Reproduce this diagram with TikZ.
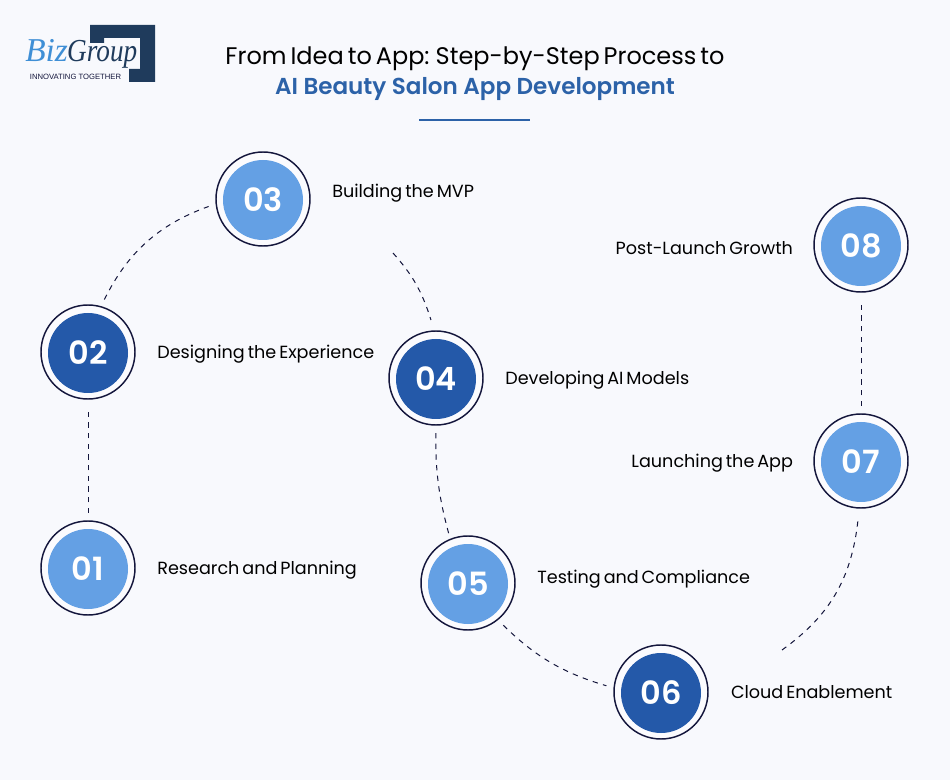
\documentclass[tikz,border=0pt]{standalone}
\usepackage{fontspec}
\setmainfont{Poppins}[WordSpace=0.62]
\newfontfamily\numfont{Poppins SemiBold}
\newfontfamily\logofont{Liberation Serif}
\newfontfamily\taglinefont{Liberation Sans}
\usetikzlibrary{positioning}
\definecolor{pagebg}{HTML}{F8F9FD}
\definecolor{ringcol}{HTML}{14163C}
\definecolor{lightblue}{HTML}{64A0E4}
\definecolor{darkblue}{HTML}{2459A9}
\definecolor{titleblue}{HTML}{2C62A8}
\definecolor{logonavy}{HTML}{1F3B5C}
\definecolor{logoblue}{HTML}{3F8FD6}
\tikzset{
  ringnode/.style={circle, draw=ringcol, line width=1.1pt, fill=white!40!pagebg, minimum size=70.5pt, inner sep=0pt},
  lightstep/.style={circle, fill=lightblue, minimum size=60pt, inner sep=0pt, text=white, font=\numfont\fontsize{24}{24}\selectfont},
  darkstep/.style={lightstep, fill=darkblue},
  steplabel/.style={font=\fontsize{13.2}{16}\selectfont, text=black, inner sep=0pt, yshift=-2pt},
  dashline/.style={draw=ringcol, line width=0.75pt, dash pattern=on 4pt off 4pt}
}
\begin{document}
\begin{tikzpicture}[x=0.75pt, y=-0.75pt]
  \fill[pagebg] (0,0) rectangle (950,780);
  \useasboundingbox (0,0) rectangle (950,780);

  % logo
  \fill[logonavy] (90,25) -- (155,25) -- (155,82) -- (129,82) -- (129,69) -- (140,69)
    -- (140,38) -- (104,38) -- (104,43) -- (90,43) -- cycle;
  \node[anchor=base west, inner sep=0pt, text=logoblue, font=\logofont\itshape\fontsize{25}{25}\selectfont] (bizword) at (25,62) {Biz};
  \node[anchor=base west, inner sep=0pt, text=logonavy, font=\logofont\itshape\fontsize{24}{24}\selectfont, xscale=0.85] (groupword) at (67,62) {Group};
  \node[anchor=center, inner sep=0pt, text=ringcol, font=\taglinefont\fontsize{5.75}{7}\selectfont] (tagline) at (75.5,77) {INNOVATING TOGETHER};

  % title
  \node[inner sep=0pt, font=\fontsize{18}{22}\selectfont] (titleone) at (475,58.5) {From Idea to App: Step-by-Step Process to};
  \node[inner sep=0pt, text=titleblue, font=\numfont\fontsize{17.3}{22}\selectfont] (titletwo) at (475,89) {AI Beauty Salon App Development};
  \coordinate (ruleleft) at (419,120);
  \coordinate (ruleright) at (530,120);
  \draw[titleblue, line width=1pt] (ruleleft) -- (ruleright);

  % steps
  \foreach \nm/\px/\py/\sty in {01/88/568/lightstep, 02/88/352/darkstep, 03/263/199/lightstep, 04/436/378/darkstep,
      05/468/583/lightstep, 06/661/692/darkstep, 07/861/461/lightstep, 08/861/245/lightstep} {
    \node[ringnode] (r\nm) at (\px,\py) {};
    \node[\sty, yshift=-0.75pt] (n\nm) at (r\nm) {\nm};
  }

  \node[steplabel, right=16pt of r01] (l01) {Research and Planning};
  \node[steplabel, right=16pt of r02] (l02) {Designing the Experience};
  \node[steplabel, anchor=west] (l03) at (332,191) {Building the MVP};
  \node[steplabel, right=16pt of r04] (l04) {Developing AI Models};
  \node[steplabel, right=16pt of r05, yshift=5pt] (l05) {Testing and Compliance};
  \node[steplabel, right=16.5pt of r06, yshift=2pt] (l06) {Cloud Enablement};
  \node[steplabel, left=15pt of r07] (l07) {Launching the App};
  \node[steplabel, left=15pt of r08] (l08) {Post-Launch Growth};

  % free ends of the open connectors
  \coordinate (gapthree) at (393,253);
  \coordinate (gapseven) at (782,650);
  \coordinate (endfour) at (431,320);
  \coordinate (endseven) at (858,520);

  \draw[dashline, shorten <=5.5pt, shorten >=5.5pt] (r01) -- (r02);
  \draw[dashline, shorten <=5.5pt, shorten >=5.5pt] (r02.74) to[bend left=22] (r03.186);
  \draw[dashline] (gapthree) to[bend left=12] (endfour);
  \draw[dashline, shorten <=5.5pt, shorten >=4pt] (r04.270) to[bend right=8] (r05.112);
  \draw[dashline, shorten <=5.5pt, shorten >=5.5pt] (r05.-51) to[bend right=14] (r06.175);
  \draw[dashline] (gapseven) to[bend right=24] (endseven);
  \draw[dashline, shorten <=5.5pt, shorten >=5.5pt] (r07) -- (r08);
\end{tikzpicture}
\end{document}
